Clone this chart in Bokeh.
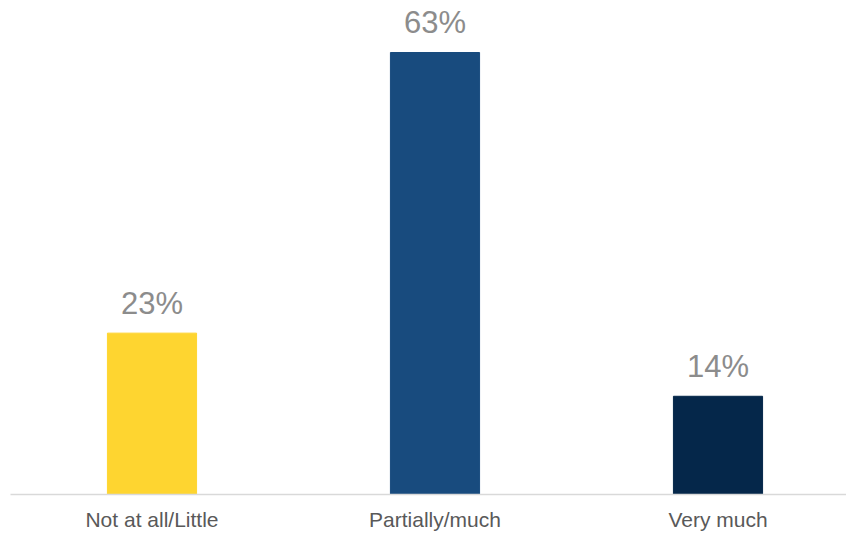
from bokeh.plotting import figure
from bokeh.models import ColumnDataSource, Range1d, FixedTicker
from bokeh.core.properties import value
from bokeh.embed import file_html
from bokeh.resources import INLINE

categories = ["Not at all/Little", "Partially/much", "Very much"]
values = [23, 63, 14]
labels = ["23%", "63%", "14%"]
colors = ["#FED530", "#184B7E", "#05274A"]
xpos = [0.5, 1.5, 2.5]

src = ColumnDataSource(dict(x=xpos, top=values, label=labels, color=colors))

p = figure(width=846, height=533, output_backend="svg", toolbar_location=None,
           x_range=Range1d(0, 836 / 283), y_range=Range1d(0, 69.7),
           min_border_left=10, min_border_right=0, min_border_top=5, min_border_bottom=0)

p.vbar(x="x", top="top", width=0.315, color="color", source=src)
p.text(x="x", y="top", text="label", source=src, text_align="center", text_baseline="alphabetic",
       y_offset=-30, text_font=value("Liberation Sans"), text_font_size="31px", text_color="#8C8C8C")

p.yaxis.visible = False
p.grid.visible = False
p.outline_line_color = None
xa = p.xaxis[0]
xa.ticker = FixedTicker(ticks=xpos)
xa.major_label_overrides = {x: c for x, c in zip(xpos, categories)}
xa.major_tick_line_color = None
xa.minor_tick_line_color = None
xa.axis_line_color = "#D9D9D9"
xa.axis_line_width = 1.5
xa.major_label_text_font = "Liberation Sans"
xa.major_label_text_font_size = "21px"
xa.major_label_text_color = "#595959"
xa.major_label_standoff = 7

open("out.html", "w").write(file_html(p, INLINE))
